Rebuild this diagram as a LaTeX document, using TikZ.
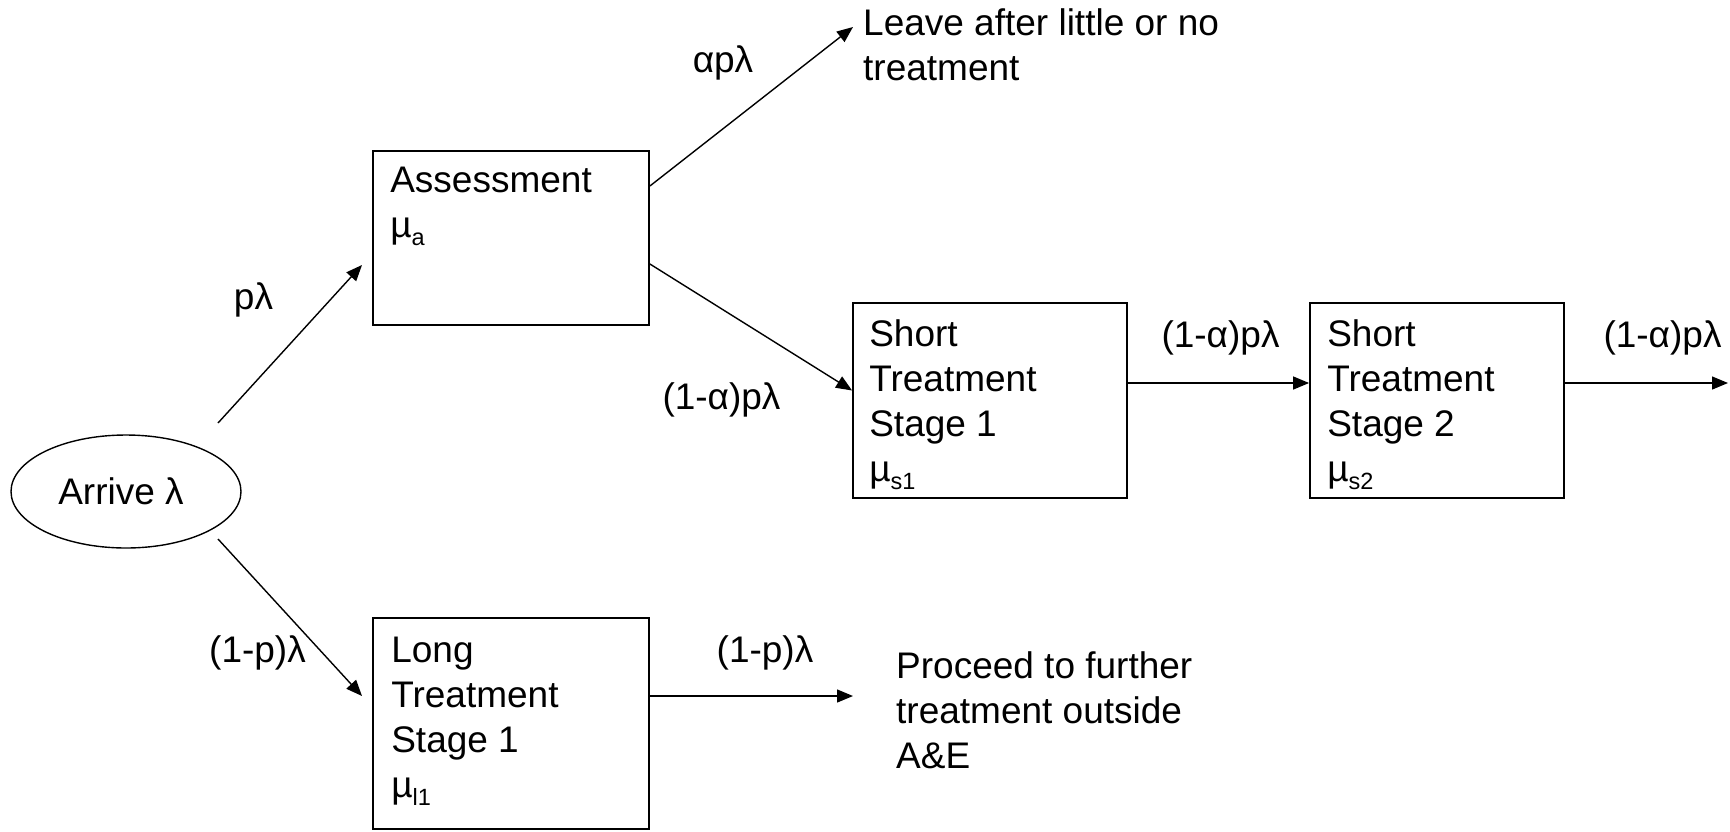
\documentclass[tikz,border=0pt]{standalone}
\usepackage{fontspec}
\setmainfont{Liberation Sans}
\usetikzlibrary{arrows.meta,shapes.geometric}
\newcommand\subx[1]{\raisebox{-8pt}{\fontsize{23.5}{23.5}\selectfont #1}}
\begin{document}
\begin{tikzpicture}[x=1pt,y=-1pt,
  every node/.style={font=\fontsize{37}{45}\selectfont},
  box/.style={draw, line width=1.8pt, inner sep=0pt},
  txt/.style={anchor=north west, inner sep=0pt, align=left},
  lab/.style={anchor=base, inner sep=0pt},
  flow/.style={line width=1.4pt, -{Triangle[length=16pt,width=13pt]}}]
\useasboundingbox (0,0) rectangle (1730,831);

% nodes
\node[draw, ellipse, line width=1.4pt, minimum width=230pt, minimum height=113pt, inner sep=0pt] (arrive) at (126,491.5) {\hspace*{-10pt}Arrive λ};
\node[box, minimum width=276pt, minimum height=174pt] (assess) at (511,238) {};
\node[box, minimum width=274pt, minimum height=195pt] (st1) at (990,400.5) {};
\node[box, minimum width=254pt, minimum height=195pt] (st2) at (1437,400.5) {};
\node[box, minimum width=276pt, minimum height=211pt] (long) at (511,723.5) {};

% box texts
\node[txt] (assesst) at ([shift={(18,17)}]assess.north west) {Assessment\\µ\subx{a}};
\node[txt] (st1t) at ([shift={(17,17)}]st1.north west) {Short\\Treatment\\Stage 1\\µ\subx{s1}};
\node[txt] (st2t) at ([shift={(18,17)}]st2.north west) {Short\\Treatment\\Stage 2\\µ\subx{s2}};
\node[txt] (longt) at ([shift={(19,20)}]long.north west) {Long\\Treatment\\Stage 1\\µ\subx{l1}};

% outside texts
\node[txt] (leave) at (863,8) {Leave after little or no\\treatment};
\node[txt] (proceed) at (896,651) {Proceed to further\\treatment outside\\A\&E};

% free ends
\coordinate (pa) at (218,423);
\coordinate (pb) at (218,539);
\coordinate (pae) at (362,265);
\coordinate (pbe) at (362,696);
\coordinate (leavetip) at (853,27);
\coordinate (outr) at (1728,383);
\coordinate (longout) at (853,696);

% connectors
\draw[flow] (pa) -- (pae);
\draw[flow] (pb) -- (pbe);
\draw[flow] ([yshift=52pt]assess.east) -- (leavetip);
\draw[flow] ([yshift=-26pt]assess.east) -- ([yshift=10pt]st1.west);
\draw[flow] ([yshift=17.5pt]st1.east) -- ([yshift=17.5pt]st2.west);
\draw[flow] ([yshift=17.5pt]st2.east) -- (outr);
\draw[flow] ([yshift=27.5pt]long.east) -- (longout);

% labels
\node[lab] (l1) at (723,72) {αpλ};
\node[lab] (l2) at (253.5,309) {pλ};
\node[lab] (l3) at (721.5,409) {(1-α)pλ};
\node[lab] (l4) at (1220.5,347) {(1-α)pλ};
\node[lab] (l5) at (1662.5,347) {(1-α)pλ};
\node[lab] (l6) at (257.5,662) {(1-p)λ};
\node[lab] (l7) at (765,662) {(1-p)λ};
\end{tikzpicture}
\end{document}
